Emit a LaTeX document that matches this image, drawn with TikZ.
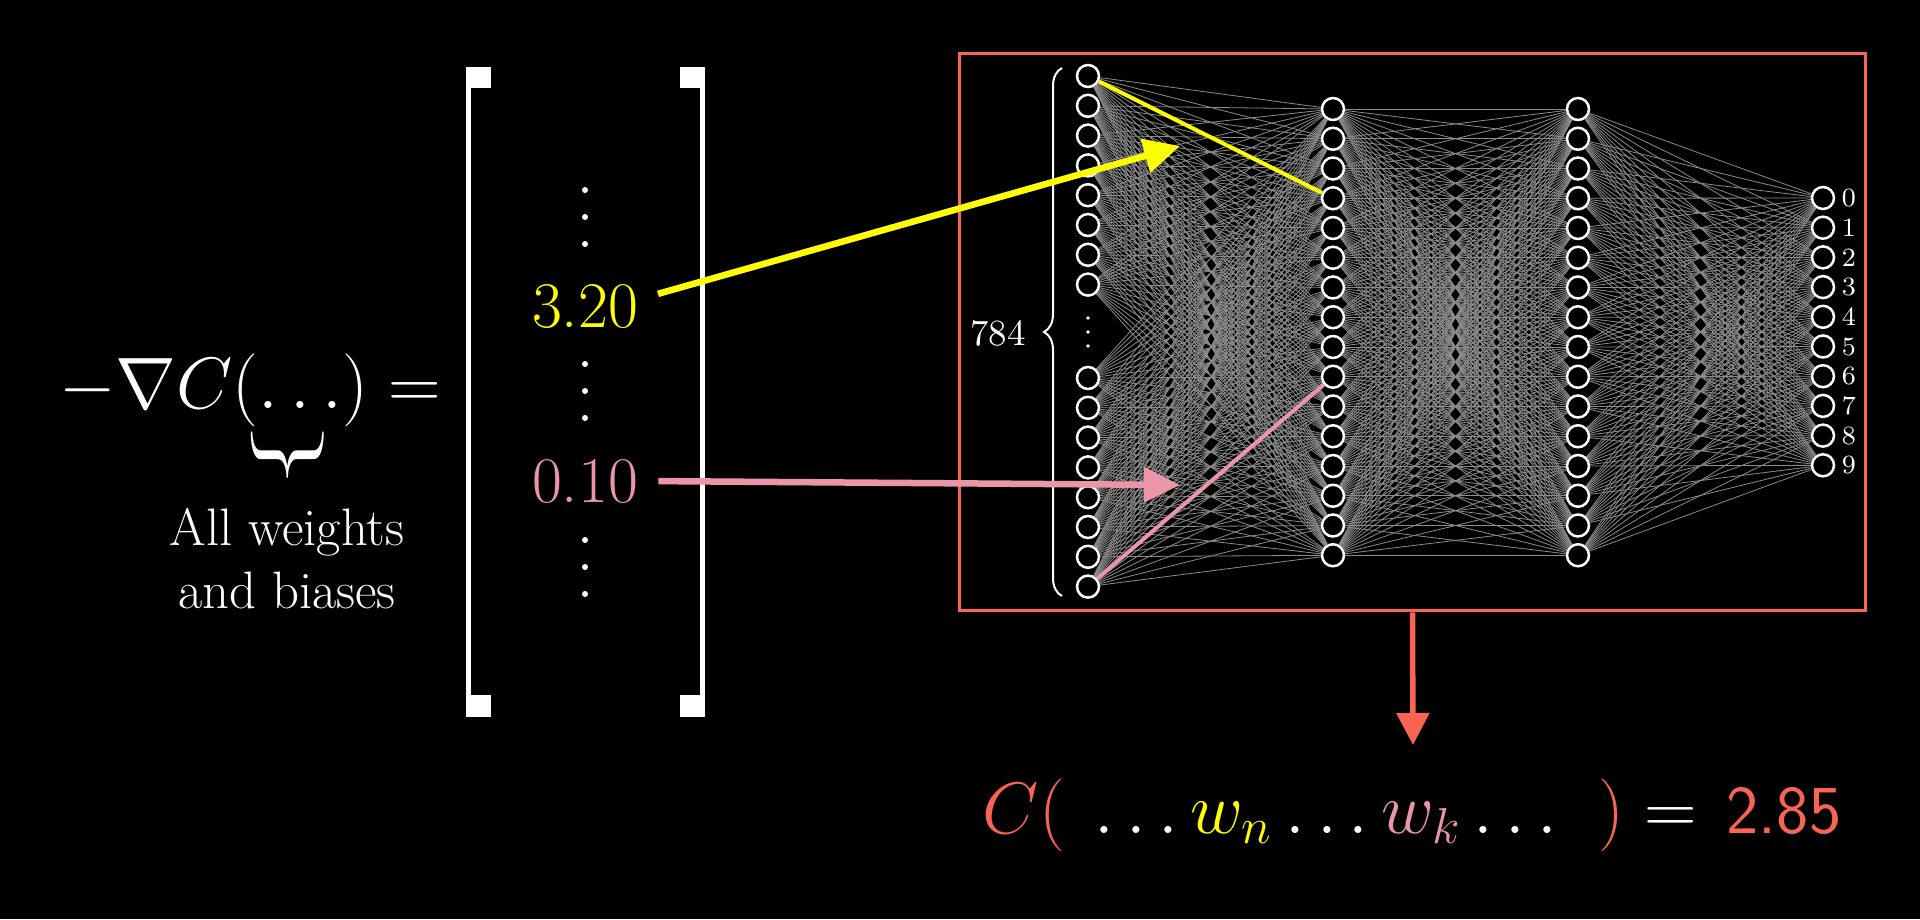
\documentclass[tikz,border=0pt]{standalone}
\usepackage{graphicx}
\usetikzlibrary{positioning,arrows.meta,decorations.pathreplacing}

\definecolor{cred}{RGB}{250,100,82}
\definecolor{cyel}{RGB}{255,255,0}
\definecolor{cpink}{RGB}{234,150,168}
\definecolor{cedge}{RGB}{140,140,140}

\begin{document}
\begin{tikzpicture}[x=0.1mm,y=-0.1mm,
    neuron/.style={circle,draw=white,fill=black,line width=0.25mm,minimum size=2.2mm,inner sep=0pt},
    link/.style={cedge,line width=0.08mm},
    bigm/.style={font=\fontsize{19.5}{23}\selectfont,inner sep=0pt},
    entry/.style={font=\fontsize{18.5}{22}\selectfont,anchor=base},
    pointer/.style={line width=0.65mm,-{Triangle[length=3.6mm,width=3.4mm]}}]
  \fill[black] (0,0) rectangle (1920,919);
  \useasboundingbox (0,0) rectangle (1920,919);

  % gradient
  \node[bigm,white,anchor=base] (grad) at (250,408) {$-\nabla C(\ldots)=$};
  \node[white,inner sep=0pt] (ubr) at (288,455) {\scalebox{1}[1.8]{\rotatebox[origin=c]{-90}{\fontsize{19.5}{20}\selectfont$\}$}}};
  \node[white,font=\fontsize{15}{18}\selectfont,anchor=base] (lbl1) at (287,545) {All weights};
  \node[white,font=\fontsize{15}{18}\selectfont,anchor=base] (lbl2) at (287,608) {and biases};

  % brackets
  \fill[white] (466,67) rectangle (471,717);  % left
  \fill[white] (466,67) rectangle (491,88);
  \fill[white] (466,695) rectangle (491,717);
  \fill[white] (700,67) rectangle (705,717);  % right
  \fill[white] (680,67) rectangle (705,88);
  \fill[white] (680,695) rectangle (705,717);

  % entries
  \foreach \y in {190,217,244,364,391,418,540,567,594}
    \fill[white] (585,\y) circle (0.3mm);
  \node[entry,cyel] (v320) at (585,327) {3.20};
  \node[entry,cpink] (v010) at (585,502) {0.10};

  % network
  \node[draw=cred,line width=0.35mm,minimum width=90.6mm,minimum height=55.7mm] (netbox) at (1412.5,332) {};
  \foreach \k in {1,...,8}
    \node[neuron] (i\k) at (1088,{76+29.8*(\k-1)}) {};
  \foreach \k in {9,...,16}
    \node[neuron] (i\k) at (1088,{378+29.8*(\k-9)}) {};
  \foreach \k in {1,...,16} {
    \node[neuron] (h\k) at (1333,{109+29.75*(\k-1)}) {};
    \node[neuron] (g\k) at (1578,{109+29.75*(\k-1)}) {};
  }
  \foreach \k in {0,...,9} {
    \node[neuron] (o\k) at (1823,{198+29.7*\k}) {};
    \node[white,font=\fontsize{7.5}{9}\selectfont,inner sep=0pt,right=0.6mm of o\k] (d\k) {\k};
  }
  \foreach \y in {318,332,346}
    \fill[white] (1088,\y) circle (0.18mm);

  % connections
  \foreach \a in {1,...,16}
    \foreach \b in {1,...,16} {
      \draw[link] (i\a) -- (h\b);
      \draw[link] (h\a) -- (g\b);
    }
  \foreach \a in {1,...,16}
    \foreach \b in {0,...,9}
      \draw[link] (g\a) -- (o\b);
  \draw[cyel,line width=0.4mm] (i1) -- (h4);
  \draw[cpink,line width=0.4mm] (i16) -- (h10);

  % input count
  \draw[white,line width=0.2mm,decorate,decoration={brace,amplitude=1.8mm}] (1062,596) -- (1062,68);
  \node[white,font=\fontsize{10.5}{12}\selectfont] (n784) at (998,333) {784};

  % pointers
  \coordinate (ytip) at (1180,146);
  \coordinate (ptip) at (1180,485);
  \draw[pointer,cyel,shorten <=0.8mm] ([yshift=1mm]v320.east) -- (ytip);
  \draw[pointer,cpink,shorten <=0.8mm] (v010.east) -- (ptip);

  % cost
  \coordinate (ctip) at (1413,745);
  \draw[cred,line width=0.55mm,-{Triangle[length=3.2mm,width=3.2mm]}] (netbox.south) -- (ctip);
  \node[bigm,cred,anchor=base west] (cfun) at (982,833) {$C($};
  \node[bigm,white,anchor=base] (cargs) at (1326,833) {$\ldots{\color{cyel}w_n}\ldots{\color{cpink}w_k}\ldots$};
  \node[bigm,white,anchor=base west] (ceq) at (1598,833) {$\textcolor{cred}{)}=$};
  \node[cred,inner sep=0pt,anchor=base west,font=\fontsize{19.5}{23}\selectfont\sffamily] (cval) at (1726,833) {2.85};
\end{tikzpicture}
\end{document}
